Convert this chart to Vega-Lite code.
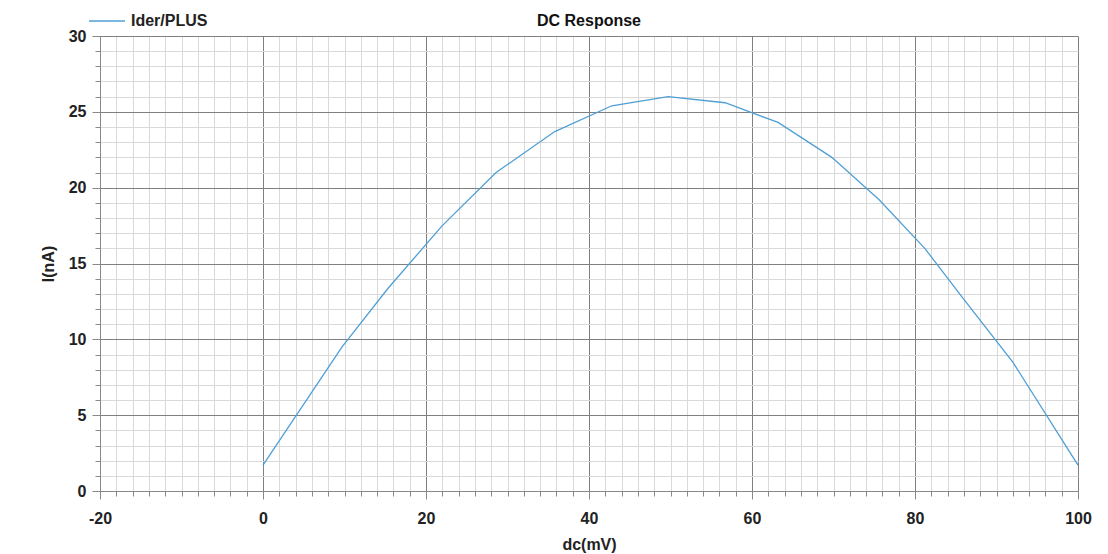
{
  "$schema": "https://vega.github.io/schema/vega-lite/v6.json",
  "autosize": "none",
  "width": 978,
  "height": 455,
  "padding": {"left": 100, "top": 36, "right": 30, "bottom": 63},
  "background": "white",
  "title": {"text": "DC Response", "fontSize": 16, "font": "Liberation Sans", "fontWeight": "bold", "color": "#111", "offset": -27, "anchor": "middle"},
  "config": {
    "view": {"stroke": null},
    "axis": {"labelFont": "Liberation Sans", "titleFont": "Liberation Sans", "labelFontWeight": "bold", "titleFontWeight": "bold", "labelFontSize": 16, "titleFontSize": 16, "labelColor": "#222", "titleColor": "#222", "labelFlush": false}
  },
  "data": {"values": [
    {"dc": 0, "I": 1.7, "s": "Ider/PLUS"},
    {"dc": 9.7, "I": 9.5, "s": "Ider/PLUS"},
    {"dc": 15.4, "I": 13.4, "s": "Ider/PLUS"},
    {"dc": 22.0, "I": 17.5, "s": "Ider/PLUS"},
    {"dc": 28.6, "I": 21.0, "s": "Ider/PLUS"},
    {"dc": 35.8, "I": 23.7, "s": "Ider/PLUS"},
    {"dc": 42.8, "I": 25.4, "s": "Ider/PLUS"},
    {"dc": 49.7, "I": 26.0, "s": "Ider/PLUS"},
    {"dc": 56.7, "I": 25.6, "s": "Ider/PLUS"},
    {"dc": 63.2, "I": 24.3, "s": "Ider/PLUS"},
    {"dc": 69.8, "I": 22.0, "s": "Ider/PLUS"},
    {"dc": 75.6, "I": 19.2, "s": "Ider/PLUS"},
    {"dc": 81.2, "I": 16.0, "s": "Ider/PLUS"},
    {"dc": 85.9, "I": 12.7, "s": "Ider/PLUS"},
    {"dc": 92.0, "I": 8.5, "s": "Ider/PLUS"},
    {"dc": 100, "I": 1.7, "s": "Ider/PLUS"}
  ]},
  "resolve": {"axis": {"x": "independent", "y": "independent"}},
  "layer": [
    {
      "mark": {"type": "line", "opacity": 0},
      "encoding": {
        "x": {"field": "dc", "type": "quantitative", "scale": {"domain": [-20, 100], "nice": false, "zero": false},
          "axis": {"orient": "bottom", "values": [-18,-16,-14,-12,-10,-8,-6,-4,-2,2,4,6,8,10,12,14,16,18,22,24,26,28,30,32,34,36,38,42,44,46,48,50,52,54,56,58,62,64,66,68,70,72,74,76,78,82,84,86,88,90,92,94,96,98],
            "labels": false, "title": null, "domain": false, "grid": true, "gridColor": "#d9d9d9", "gridWidth": 1, "ticks": true, "tickSize": 5, "tickColor": "#888"}},
        "y": {"field": "I", "type": "quantitative", "scale": {"domain": [0, 30], "nice": false},
          "axis": {"orient": "left", "values": [1,2,3,4,6,7,8,9,11,12,13,14,16,17,18,19,21,22,23,24,26,27,28,29],
            "labels": false, "title": null, "domain": false, "grid": true, "gridColor": "#d9d9d9", "gridWidth": 1, "ticks": true, "tickSize": 5, "tickColor": "#888"}}
      }
    },
    {
      "mark": {"type": "line", "strokeWidth": 1.3},
      "encoding": {
        "x": {"field": "dc", "type": "quantitative", "scale": {"domain": [-20, 100], "nice": false, "zero": false},
          "axis": {"orient": "bottom", "values": [-20, 0, 20, 40, 60, 80, 100], "labelExpr": "'' + datum.value", "title": "dc(mV)", "titlePadding": 10,
            "domain": true, "domainColor": "#888", "grid": true, "gridColor": "#808080", "gridWidth": 1, "tickSize": 8, "tickColor": "#888", "labelPadding": 11}},
        "y": {"field": "I", "type": "quantitative", "scale": {"domain": [0, 30], "nice": false},
          "axis": {"orient": "left", "values": [0, 5, 10, 15, 20, 25, 30], "title": "I(nA)", "titlePadding": 12,
            "domain": true, "domainColor": "#888", "grid": true, "gridColor": "#808080", "gridWidth": 1, "tickSize": 8, "tickColor": "#888", "labelPadding": 6}},
        "color": {"field": "s", "type": "nominal", "scale": {"range": ["#4f9fd5"]},
          "legend": {"title": null, "orient": "none", "legendX": -12, "legendY": -34, "symbolType": "stroke", "symbolSize": 1300, "symbolStrokeWidth": 1.5,
            "labelFont": "Liberation Sans", "labelFontWeight": "bold", "labelFontSize": 16, "labelColor": "#222", "labelOffset": 5}}
      }
    }
  ]
}
